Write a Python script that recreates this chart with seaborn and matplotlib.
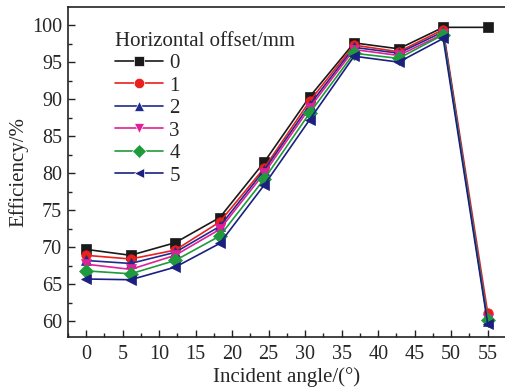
import matplotlib
matplotlib.use("Agg")
import matplotlib.pyplot as plt
import seaborn as sns
import pandas as pd
from matplotlib.ticker import MultipleLocator

angles = [0, 6.1, 12.2, 18.3, 24.4, 30.6, 36.7, 42.8, 48.9, 55]
offsets = ["0", "1", "2", "3", "4", "5"]
eff_0 = [69.7, 68.9, 70.6, 74.0, 81.5, 90.3, 97.6, 96.8, 99.7, 99.7]
eff_1 = [68.9, 68.4, 69.6, 73.4, 80.7, 89.7, 97.3, 96.4, 99.4, 61.1]
eff_2 = [68.2, 67.8, 69.3, 72.8, 80.4, 89.2, 97.0, 96.2, 99.1, 60.0]
eff_3 = [67.7, 67.0, 68.9, 72.4, 80.0, 88.8, 96.7, 95.9, 98.8, 60.3]
eff_4 = [66.8, 66.4, 68.2, 71.5, 79.2, 88.1, 96.2, 95.5, 98.7, 60.1]
eff_5 = [65.7, 65.6, 67.3, 70.5, 78.4, 87.2, 95.8, 95.0, 98.2, 59.6]
series = [eff_0, eff_1, eff_2, eff_3, eff_4, eff_5]

colors = ["#1a1a1a", "#e8201e", "#1f2a8e", "#e0209a", "#1f9a3c", "#1a1f80"]
markers = ["s", "o", "^", "v", "D", "<"]

rows = []
for lab, vals in zip(offsets, series):
    for a, v in zip(angles, vals):
        rows.append({"angle": a, "eff": v, "offset": lab})
df = pd.DataFrame(rows)

sns.set_style("ticks")
plt.rcParams["font.family"] = ["Liberation Serif", "DejaVu Serif"]

fig = plt.figure(figsize=(5.06, 3.87), dpi=100)
ax = fig.add_axes([0.134, 0.128, 0.866, 0.853])

sns.lineplot(data=df, x="angle", y="eff", hue="offset", style="offset",
             palette=dict(zip(offsets, colors)),
             markers=dict(zip(offsets, markers)),
             dashes=False, linewidth=1.2, markersize=6.8,
             markeredgewidth=0.5, ax=ax)

for line, c in zip(ax.lines, colors):
    line.set_markeredgecolor(c)

ax.set_xlim(-2.5, 57.5)
ax.set_ylim(57.8, 102.4)
ax.xaxis.set_major_locator(MultipleLocator(5))
ax.xaxis.set_minor_locator(MultipleLocator(2.5))
ax.yaxis.set_major_locator(MultipleLocator(5))
ax.yaxis.set_minor_locator(MultipleLocator(2.5))
ax.tick_params(which="major", direction="in", length=5, width=1, labelsize=14.5,
               top=False, right=False, color="#222222", pad=4)
ax.tick_params(axis="x", which="major", pad=5.5)
ax.tick_params(which="minor", direction="in", length=3, width=1,
               top=False, right=False, color="#222222")
for s in ax.spines.values():
    s.set_linewidth(1.2)
    s.set_color("#222222")

ax.set_xlabel("Incident angle/(°)", fontsize=15, labelpad=2)
ax.set_ylabel("Efficiency/%", fontsize=15, labelpad=3)

handles, labels = ax.get_legend_handles_labels()
for h in handles:
    h.set_markersize(7.5)
leg = ax.legend(handles, labels, title="Horizontal offset/mm", loc="upper left",
                bbox_to_anchor=(0.089, 0.952), frameon=False, fontsize=15,
                title_fontsize=15, handlelength=2.3, handletextpad=0.3,
                labelspacing=0.14, borderaxespad=0)
leg._legend_box.align = "left"

fig.savefig("out.png", dpi=100)
